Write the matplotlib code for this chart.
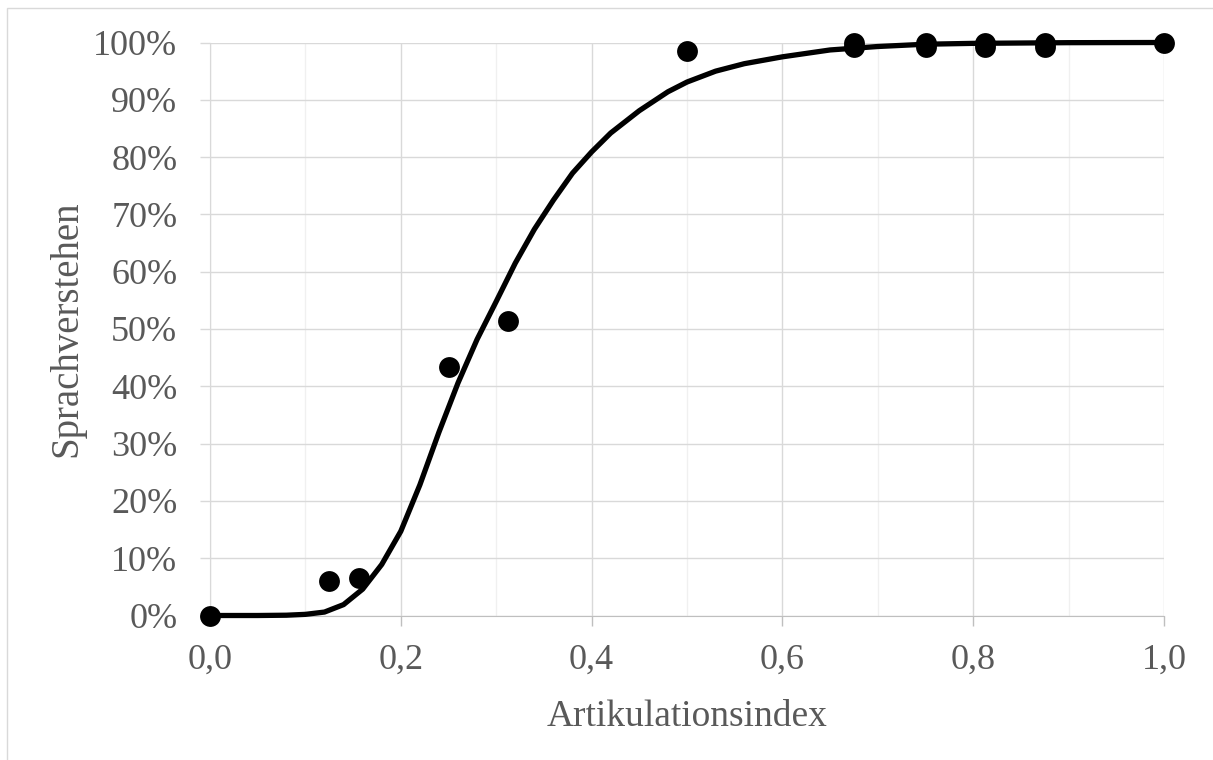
import numpy as np
import matplotlib.pyplot as plt
from matplotlib.ticker import FuncFormatter, MultipleLocator
from matplotlib.patches import Rectangle

# measured points (Artikulationsindex, Sprachverstehen in %)
ai = [0.0, 0.125, 0.156, 0.25, 0.3125, 0.5, 0.675, 0.675, 0.75, 0.75,
      0.8125, 0.8125, 0.875, 0.875, 1.0]
sv = [0.0, 6.0, 6.5, 43.3, 51.4, 98.6, 100.0, 99.3, 100.0, 99.3,
      100.0, 99.3, 100.0, 99.3, 100.0]

# fitted curve, read point by point
fit_ai = [0.0, 0.05, 0.08, 0.10, 0.12, 0.14, 0.16, 0.18, 0.20, 0.22,
          0.24, 0.26, 0.28, 0.30, 0.32, 0.34, 0.36, 0.38, 0.40, 0.42,
          0.45, 0.48, 0.50, 0.53, 0.56, 0.60, 0.65, 0.70, 0.75, 0.80,
          0.90, 1.0]
fit_sv = [0.0, 0.0, 0.05, 0.2, 0.6, 1.9, 4.6, 8.9, 14.7, 22.8,
          32.0, 40.6, 48.2, 54.8, 61.5, 67.4, 72.5, 77.2, 80.9, 84.2,
          88.1, 91.4, 93.1, 95.0, 96.3, 97.5, 98.7, 99.3, 99.7, 99.85,
          99.97, 100.0]

txt = '#595959'
plt.rcParams['font.family'] = ['Liberation Serif', 'DejaVu Serif']

fig = plt.figure(figsize=(12.13, 7.6), dpi=100)
fig.patches.append(Rectangle((7 / 1213, -0.1), 1.2, 1.1 - 8 / 760,
                             transform=fig.transFigure, fill=False,
                             edgecolor='#d9d9d9', lw=1.0))
ax = fig.add_axes([210 / 1213, 1 - 615.5 / 760, 954 / 1213, 573 / 760])

ax.plot(fit_ai, np.array(fit_sv) / 100, color='black', lw=3.8,
        solid_capstyle='round', solid_joinstyle='round', clip_on=False, zorder=3)
ax.plot(ai, np.array(sv) / 100, 'o', color='black', ms=15, mew=0,
        clip_on=False, zorder=4)

ax.set_xlim(0, 1)
ax.set_ylim(0, 1)
ax.xaxis.set_major_locator(MultipleLocator(0.2))
ax.xaxis.set_minor_locator(MultipleLocator(0.1))
ax.yaxis.set_major_locator(MultipleLocator(0.1))
ax.xaxis.set_major_formatter(FuncFormatter(lambda v, p: f'{v:.1f}'.replace('.', ',')))
ax.yaxis.set_major_formatter(FuncFormatter(lambda v, p: f'{v * 100:.0f}%'))

ax.grid(which='major', color='#d9d9d9', lw=1.0)
ax.grid(which='minor', axis='x', color='#f0f0f0', lw=1.0)
ax.set_axisbelow(True)

for s in ['top', 'right']:
    ax.spines[s].set_visible(False)
ax.spines['bottom'].set_color('#bfbfbf')
ax.spines['left'].set_color('#d9d9d9')
ax.tick_params(axis='x', which='major', length=7.5, width=1.0, color='#bfbfbf',
               labelsize=26, labelcolor=txt, pad=13)
ax.tick_params(axis='x', which='minor', length=0)
ax.tick_params(axis='y', length=7.5, width=1.0, color='#d9d9d9',
               labelsize=26, labelcolor=txt, pad=16)

ax.set_xlabel('Artikulationsindex', fontsize=27, color=txt, labelpad=16)
ax.set_ylabel('Sprachverstehen', fontsize=28, color=txt, labelpad=6)

fig.savefig('out.png', dpi=100)
